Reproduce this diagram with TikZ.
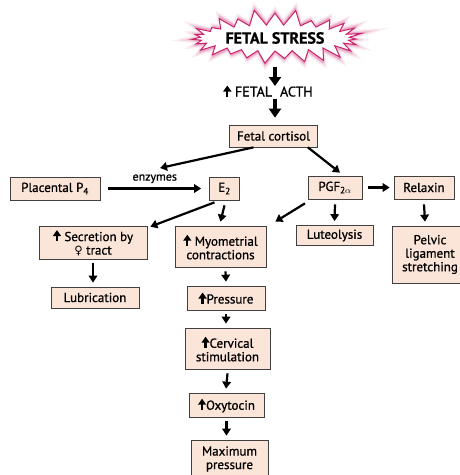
\documentclass[tikz,border=0pt]{standalone}
\usepackage{fontspec}
\setmainfont{PT Sans}[FakeBold=0.8]
\newfontfamily\symfont{DejaVu Sans}
\usetikzlibrary{arrows.meta,shapes.symbols}
\definecolor{boxfill}{HTML}{FBE4D8}
\definecolor{burst}{HTML}{C8236A}
\newcommand{\uparr}{\tikz[baseline=0pt]\draw[line width=2.2pt,-{Triangle[length=6pt,width=8pt]}] (0pt,0pt) -- (0pt,11pt);}
\tikzset{
  box/.style={draw=black!75, fill=boxfill, line width=0.7pt, inner sep=1pt, align=center, font=\fontsize{13}{13.5}\selectfont},
  arr/.style={line width=2.2pt, -{Triangle[length=7pt,width=8.5pt]}},
  bigarr/.style={line width=3.4pt, -{Triangle[length=9pt,width=12pt]}},
  stressburst/.style={starburst, starburst points=27, starburst point height=16pt, random starburst=11, minimum width=175pt, minimum height=58pt}
}
\begin{document}
\begin{tikzpicture}[x=1pt,y=-1pt]
\useasboundingbox (0,0) rectangle (460,475);
%fetal stress
\foreach \w/\o in {8/0.08,5.5/0.12,3/0.25}{\node[stressburst, draw=burst, line width=\w pt, draw opacity=\o] at (275,38) {};}
\node[stressburst, draw=burst, fill=white, line width=1pt, font=\fontsize{16}{16}\selectfont\bfseries] (stress) at (275,38) {FETAL STRESS};
\node[font=\fontsize{14}{14}\selectfont] (acth) at (268,91) {\uparr\ FETAL\hspace{8pt}ACTH};
\coordinate (acthtop) at (275,86);
\coordinate (acthbot) at (275,99);
%boxes
\node[box, minimum width=88pt, minimum height=22pt] (cortisol) at (273.5,136) {Fetal cortisol};
\node[box, minimum width=90pt, minimum height=23pt] (placental) at (55,188.5) {Placental P\textsubscript{4}};
\node[box, minimum width=30pt, minimum height=23pt] (e2) at (224.5,188.5) {E\textsubscript{2}};
\node[box, minimum width=54pt, minimum height=23pt] (pgf) at (335,187.5) {PGF\textsubscript{2$\alpha$}};
\node[box, minimum width=60pt, minimum height=23pt] (relaxin) at (424,187.5) {Relaxin};
\node[box, minimum width=108pt, minimum height=33pt] (secretion) at (93,242.5) {\uparr\ Secretion by\\{\symfont\fontsize{11.5}{11}\selectfont ♀} tract};
\node[box, minimum width=91pt, minimum height=41pt] (myo) at (220.5,246.5) {\uparr\ Myometrial\\contractions};
\node[box, minimum width=77pt, minimum height=20pt] (luteo) at (334.5,235.5) {Luteolysis};
\node[box, minimum width=80pt, minimum height=57pt, text width=70pt] (pelvic) at (432,254.5) {\hspace*{-4pt}Pelvic\\\hspace*{-4pt}ligament\\\hspace*{-4pt}stretching};
\node[box, minimum width=88pt, minimum height=21pt] (lubr) at (95,297.5) {Lubrication};
\node[box, minimum width=78pt, minimum height=24pt] (press) at (226,298) {\uparr Pressure};
\node[box, minimum width=85pt, minimum height=41pt] (cerv) at (227.5,348.5) {\uparr Cervical\\stimulation};
\node[box, minimum width=75pt, minimum height=24pt] (oxy) at (226.5,405) {\uparr Oxytocin};
\node[box, minimum width=77pt, minimum height=38pt] (maxp) at (229.5,459) {Maximum\\pressure};
%arrows
\draw[bigarr] ([yshift=-29pt]stress.center) -- (acthtop);
\draw[bigarr] (acthbot) -- ([xshift=1.5pt,yshift=7pt]cortisol.north);
\coordinate (enz) at (160,168);
\draw[arr] ([xshift=-20pt]cortisol.south) -- (enz);
\draw[arr] ([xshift=-10pt]cortisol.south east) -- ([xshift=5pt,yshift=3pt]pgf.north);
\draw[arr] ([xshift=8pt]placental.east) -- node[above, font=\fontsize{12}{12}\selectfont, yshift=1pt] {enzymes} ([xshift=-8pt]e2.west);
\draw[arr] ([xshift=-10pt,yshift=-2pt]e2.south) -- ([xshift=3pt,yshift=-1pt]secretion.north east);
\draw[arr] ([yshift=-5pt]e2.south) -- ([yshift=4pt]myo.north);
\draw[arr] ([xshift=-30pt,yshift=-4pt]pgf.south) -- ([xshift=9pt,yshift=4pt]myo.north east);
\draw[arr] ([yshift=-5pt]pgf.south) -- ([yshift=4pt]luteo.north);
\draw[arr] ([xshift=6pt]pgf.east) -- ([xshift=-4pt]relaxin.west);
\draw[arr] ([yshift=-5pt]relaxin.south) -- ([xshift=-7pt,yshift=4pt]pelvic.north);
\draw[arr] ([yshift=-4pt]secretion.south) -- ([yshift=4pt]secretion.south |- lubr.north);
\draw[arr] ([xshift=5pt,yshift=-4pt]myo.south) -- ([yshift=4pt]press.north);
\draw[arr] ([yshift=-4pt]press.south) -- ([yshift=4pt]press.south |- cerv.north);
\draw[arr] ([yshift=-4pt]cerv.south) -- ([yshift=4pt]press.south |- oxy.north);
\draw[arr] ([yshift=-4pt]oxy.south) -- ([yshift=4pt]oxy.south |- maxp.north);
\end{tikzpicture}
\end{document}
